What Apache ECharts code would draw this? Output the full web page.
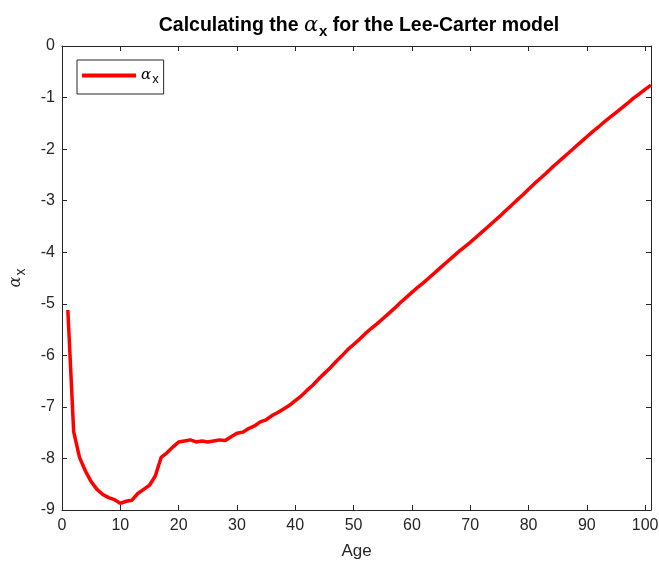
<!DOCTYPE html>
<html><head><meta charset="utf-8">
<script src="https://cdn.jsdelivr.net/npm/echarts@6/dist/echarts.min.js"></script>
<style>html,body{margin:0;padding:0;background:#fff}#c{width:659px;height:565px}</style>
</head><body><div id="c"></div>
<script>
const ages = [];
for (let a = 1; a <= 101; a++) ages.push(a);
const alphaX = [
 -5.12,-7.48,-7.98,-8.24,-8.45,-8.60,-8.70,-8.76,-8.80,-8.87,
 -8.83,-8.81,-8.68,-8.60,-8.52,-8.34,-7.98,-7.89,-7.78,-7.68,
 -7.66,-7.64,-7.68,-7.66,-7.68,-7.66,-7.64,-7.65,-7.58,-7.51,
 -7.49,-7.42,-7.37,-7.29,-7.25,-7.17,-7.11,-7.04,-6.97,-6.88,
 -6.79,-6.68,-6.58,-6.46,-6.35,-6.24,-6.12,-6.01,-5.89,-5.79,
 -5.69,-5.58,-5.48,-5.39,-5.29,-5.19,-5.09,-4.98,-4.88,-4.78,
 -4.68,-4.59,-4.49,-4.39,-4.29,-4.19,-4.09,-3.99,-3.90,-3.81,
 -3.71,-3.61,-3.51,-3.41,-3.31,-3.20,-3.10,-2.99,-2.89,-2.78,
 -2.67,-2.57,-2.47,-2.36,-2.26,-2.16,-2.06,-1.96,-1.86,-1.76,
 -1.66,-1.57,-1.47,-1.38,-1.29,-1.20,-1.11,-1.01,-0.93,-0.84,
 -0.76
];
const xTicks = [0,10,20,30,40,50,60,70,80,90,100];
const yTicks = [0,-1,-2,-3,-4,-5,-6,-7,-8,-9];
const titleText = 'Calculating the {a|α}{s|x} for the Lee-Carter model';
const xName = 'Age';

const FONT = '"Liberation Sans", Arial, sans-serif';
const AX = '#262626';
const chart = echarts.init(document.getElementById('c'), null, {renderer:'canvas'});
const axisBase = {
  axisLine:{show:true, onZero:false, lineStyle:{color:AX, width:1}},
  axisTick:{show:true, inside:true, length:5, lineStyle:{color:AX}},
  splitLine:{show:false}
};
chart.setOption({
  animation:false,
  backgroundColor:'#fff',
  title:{
    text: titleText,
    left: 354, top: 7, textAlign:'center',
    textStyle:{fontFamily:FONT, fontSize:19.5, fontWeight:'bold', color:'#000',
      rich:{
        a:{fontFamily:'"DejaVu Serif", serif', fontStyle:'italic', fontSize:21, fontWeight:'normal', color:'#000'},
        s:{fontFamily:FONT, fontSize:15, fontWeight:'bold', color:'#000', padding:[12,0,0,1]}
      }}
  },
  legend:{
    left:77, top:60, orient:'vertical',
    backgroundColor:'#fff', borderColor:'#262626', borderWidth:1,
    padding:[8,5,8,5], itemWidth:54, itemHeight:4, itemGap:0,
    icon:'rect',
    formatter: () => '{a|α}{s|x}',
    textStyle:{
      rich:{
        a:{fontFamily:'"DejaVu Serif", serif', fontStyle:'italic', fontSize:15, color:'#000'},
        s:{fontFamily:FONT, fontSize:13, color:'#000', padding:[8,0,0,1]}
      }
    }
  },
  grid:{left:62, right:8, top:46, bottom:55, containLabel:false, outerBoundsMode:'none'},
  xAxis:[
    Object.assign({}, axisBase, {
      type:'value', min:0, max:101, position:'bottom',
      name:xName, nameLocation:'middle', nameGap:33,
      nameTextStyle:{fontFamily:FONT, fontSize:17, color:AX},
      axisTick:{show:true, inside:true, length:5, lineStyle:{color:AX}, customValues:xTicks},
      axisLabel:{show:true, customValues:xTicks, fontFamily:FONT, fontSize:16, color:AX, margin:8}
    }),
    Object.assign({}, axisBase, {
      type:'value', min:0, max:101, position:'top',
      axisTick:{show:true, inside:true, length:5, lineStyle:{color:AX}, customValues:xTicks},
      axisLabel:{show:false}
    })
  ],
  yAxis:[
    Object.assign({}, axisBase, {
      type:'value', min:-9, max:0, interval:1, position:'left',
      name:'{a|α}{s|x}', nameLocation:'middle', nameGap:34, nameRotate:90,
      nameTextStyle:{rich:{
        a:{fontFamily:'"DejaVu Serif", serif', fontStyle:'italic', fontSize:16, color:AX},
        s:{fontFamily:FONT, fontSize:14, color:AX, padding:[10,0,0,1]}
      }},
      axisLabel:{show:true, fontFamily:FONT, fontSize:16, color:AX, margin:7}
    }),
    Object.assign({}, axisBase, {
      type:'value', min:-9, max:0, interval:1, position:'right',
      axisLabel:{show:false}
    })
  ],
  series:[{
    name:'alpha', type:'line', xAxisIndex:0, yAxisIndex:0,
    data: ages.map((a,i)=>[a, alphaX[i]]),
    showSymbol:false, symbol:'none',
    lineStyle:{color:'#ff0000', width:3.5},
    itemStyle:{color:'#ff0000'}
  }]
});
</script></body></html>
